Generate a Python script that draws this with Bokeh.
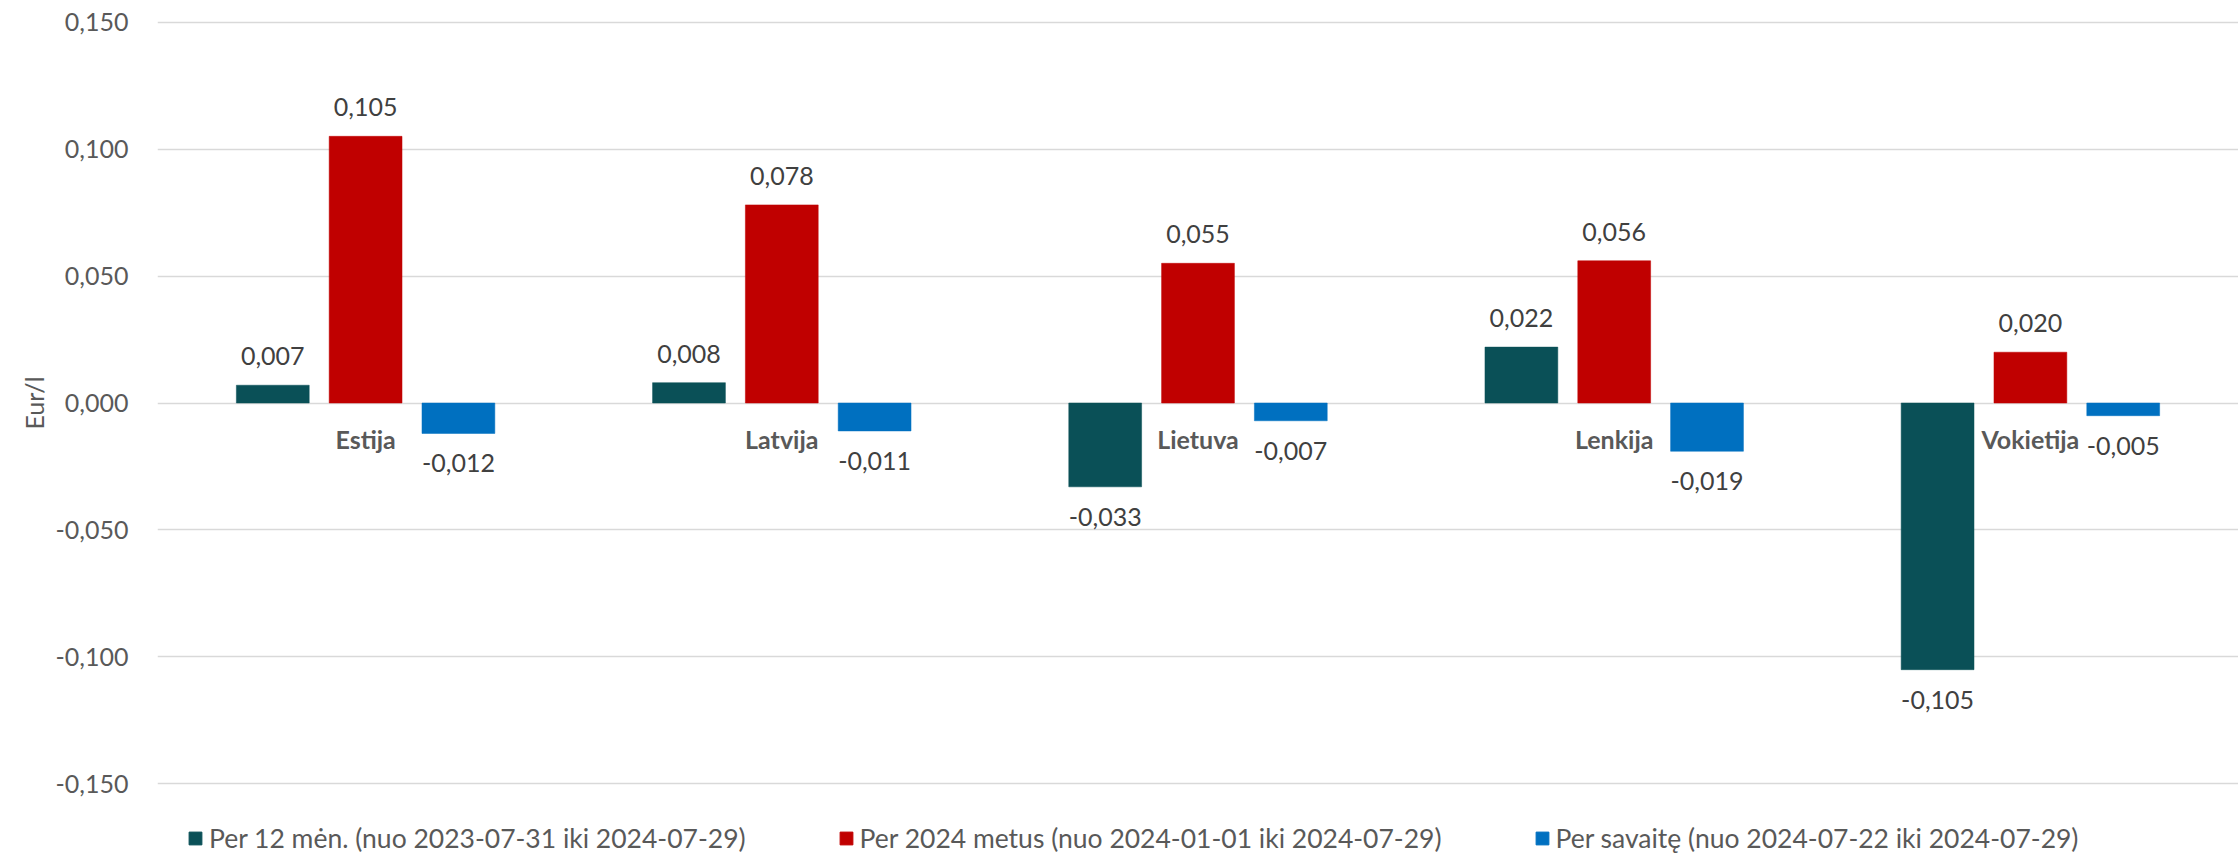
from bokeh.plotting import figure
from bokeh.layouts import column
from bokeh.models import (ColumnDataSource, Range1d, FactorRange, FixedTicker,
                          CustomJSTickFormatter, Legend, LegendItem)
from bokeh.transform import dodge
from bokeh.core.properties import value
from bokeh.embed import file_html
from bokeh.resources import INLINE

# ---- data ----
countries = ["Estija", "Latvija", "Lietuva", "Lenkija", "Vokietija"]
per_12_men = [0.007, 0.008, -0.033, 0.022, -0.105]
per_2024 = [0.105, 0.078, 0.055, 0.056, 0.020]
per_savaite = [-0.012, -0.011, -0.007, -0.019, -0.005]
series_names = [
    "Per 12 mėn. (nuo 2023-07-31 iki 2024-07-29)",
    "Per 2024 metus (nuo 2024-01-01 iki 2024-07-29)",
    "Per savaitę (nuo 2024-07-22 iki 2024-07-29)",
]
y_ticks = [-0.15, -0.10, -0.05, 0.0, 0.05, 0.10, 0.15]

colors = ["#0A5057", "#C00000", "#0070C0"]
FONT = "Lato"


def fmt(v):
    return f"{v:.3f}".replace(".", ",")


def offs(vals):
    return [-29 if v >= 0 else 30 for v in vals]


src = ColumnDataSource(dict(
    country=countries,
    s1=per_12_men, s2=per_2024, s3=per_savaite,
    l1=[fmt(v) for v in per_12_men],
    l2=[fmt(v) for v in per_2024],
    l3=[fmt(v) for v in per_savaite],
    o1=offs(per_12_men), o2=offs(per_2024), o3=offs(per_savaite),
    zero=[0.0] * len(countries),
))

p = figure(width=2238, height=800, output_backend="svg", toolbar_location=None,
           x_range=FactorRange(*countries, range_padding=0),
           y_range=Range1d(-0.1506, 0.1506),
           min_border_left=157, min_border_right=0, min_border_top=20,
           min_border_bottom=15)
p.outline_line_color = None
p.background_fill_color = "white"
p.border_fill_color = "white"

p.xaxis.visible = False
p.xgrid.grid_line_color = None
p.ygrid.grid_line_color = "#D9D9D9"
p.ygrid.grid_line_width = 1.5

ax = p.yaxis[0]
ax.ticker = FixedTicker(ticks=y_ticks)
ax.formatter = CustomJSTickFormatter(code="return tick.toFixed(3).replace('.', ',');")
ax.axis_line_color = None
ax.major_tick_line_color = None
ax.minor_tick_line_color = None
ax.major_tick_out = 0
ax.major_label_standoff = 29
ax.major_label_text_font = FONT
ax.major_label_text_font_size = "25px"
ax.major_label_text_color = "#595959"
ax.axis_label = "Eur/l"
ax.axis_label_text_font = FONT
ax.axis_label_text_font_size = "25px"
ax.axis_label_text_font_style = "normal"
ax.axis_label_text_color = "#595959"
ax.axis_label_standoff = 4

W = 0.175
OFF = 0.223
series = [("s1", "l1", "o1", -OFF, colors[0]),
          ("s2", "l2", "o2", 0.0, colors[1]),
          ("s3", "l3", "o3", OFF, colors[2])]
for col, lab, o, dx, c in series:
    p.vbar(x=dodge("country", dx, range=p.x_range), top=col, bottom=0,
           width=W, source=src, fill_color=c, line_color=c, line_width=0.5)
    p.text(x=dodge("country", dx, range=p.x_range), y=col, text=lab, source=src,
           y_offset=o, text_align="center", text_baseline="alphabetic",
           text_font=value(FONT), text_font_size="25px", text_color="#404040")

# category labels next to the zero line
p.text(x="country", y="zero", text="country", source=src, y_offset=36,
       text_align="center", text_baseline="alphabetic",
       text_font=value(FONT), text_font_size="25px", text_font_style="bold",
       text_color="#595959")

# ---- legend strip below the chart (its key glyphs use the same series, out of view) ----
lf = figure(width=2238, height=54, output_backend="svg", toolbar_location=None,
            x_range=FactorRange(*countries), y_range=Range1d(10, 11),
            min_border_left=0, min_border_right=0, min_border_top=0,
            min_border_bottom=0)
lf.axis.visible = False
lf.grid.visible = False
lf.outline_line_color = None
lf.border_fill_color = "white"
lf.background_fill_color = "white"
key_renderers = [lf.vbar(x="country", top=col, bottom=0, width=W, source=src,
                         fill_color=c, line_color=c)
                 for col, lab, o, dx, c in series]
legend = Legend(items=[LegendItem(label=n, renderers=[r])
                       for n, r in zip(series_names, key_renderers)],
                orientation="horizontal", location=(30, 0),
                glyph_width=16, glyph_height=16, label_standoff=6, spacing=92,
                label_height=25, padding=0, margin=0,
                border_line_color=None, background_fill_alpha=0,
                label_text_font=FONT, label_text_font_size="26.5px",
                label_text_color="#595959")
lf.add_layout(legend, "center")

layout = column(p, lf, spacing=0)
open("out.html", "w").write(file_html(layout, INLINE))
